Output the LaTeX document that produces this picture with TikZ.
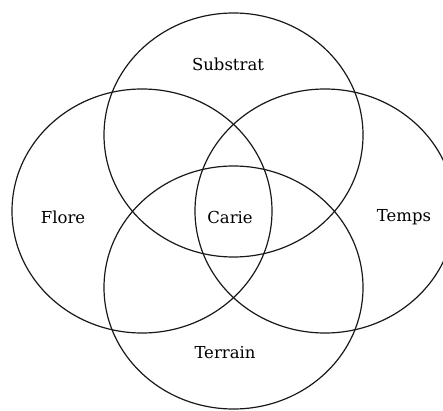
\documentclass[tikz,border=0pt]{standalone}
\usepackage{fontspec}
\setmainfont{DejaVu Serif}
\begin{document}
\begin{tikzpicture}[x=1pt,y=1pt,
  venn/.style={draw=black!90, line width=1.2pt},
  lbl/.style={font=\fontsize{16.5}{19}\selectfont, text=black}]
\useasboundingbox (0,0) rectangle (443,410);
\draw[venn] (233.5,275) ellipse [x radius=129.5, y radius=122];
\draw[venn] (142,199) ellipse [x radius=130, y radius=122];
\draw[venn] (325,199) ellipse [x radius=130, y radius=122];
\draw[venn] (233.5,122.5) ellipse [x radius=129.5, y radius=121.5];
\node[lbl] (substrat) at (228,346) {Substrat};
\node[lbl] (flore) at (63,193) {Flore};
\node[lbl] (carie) at (230,193) {Carie};
\node[lbl] (temps) at (404,193) {Temps};
\node[lbl] (terrain) at (225,57) {Terrain};
\end{tikzpicture}
\end{document}
